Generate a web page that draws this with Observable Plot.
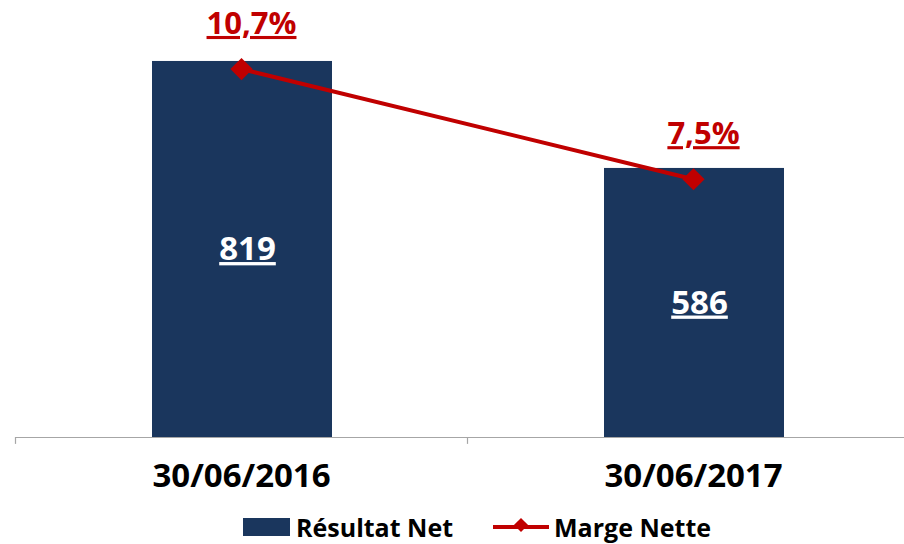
<!DOCTYPE html>
<html><head><meta charset="utf-8">
<script src="https://cdn.jsdelivr.net/npm/d3@7"></script>
<script src="https://cdn.jsdelivr.net/npm/@observablehq/plot@0.6"></script>
<style>
body{margin:0;background:#fff;font-family:'Open Sans',sans-serif;}
#wrap{position:relative;width:904px;height:544px;overflow:hidden;}
#legend{position:absolute;left:243px;top:510px;display:flex;align-items:center;font-weight:700;font-size:25px;color:#000;}
.sw{width:47px;height:18px;background:#1A365D;margin-right:6px;}
.ln{position:relative;width:56px;height:4px;background:#C00000;margin-left:40px;margin-right:5px;}
.ln::after{content:"";position:absolute;left:23px;top:-5px;width:10px;height:10px;background:#C00000;transform:rotate(45deg);}
svg text.u{text-decoration:underline;}
</style></head>
<body><div id="wrap"><div id="chart"></div>
<div id="legend"><div class="sw"></div><span>Résultat Net</span><div class="ln"></div><span>Marge Nette</span></div></div>
<script>
const categories = ["30/06/2016", "30/06/2017"];
const resultatNet = [819, 586];
const margeNette = [10.7, 7.5];

const data = categories.map((c, i) => ({c, v: resultatNet[i], m: margeNette[i]}));
const W = 904, mL = 15, mR = -15;
const step = (W - mL - mR) / categories.length;
const pctToBar = 75; // secondary axis mapping
const fmtPct = m => String(m).replace(".", ",") + "%";
const red = "#C00000", navy = "#1A365D";

const chart = Plot.plot({
  width: W, height: 500,
  marginLeft: mL, marginRight: mR, marginTop: 10, marginBottom: 63,
  style: {fontFamily: "'Open Sans', sans-serif", background: "transparent", overflow: "visible"},
  x: {domain: categories, padding: 0, axis: null},
  y: {domain: [0, 930], axis: null},
  marks: [
    Plot.barY(data, {x: "c", y: "v", fill: navy, insetLeft: 137, insetRight: 135}),
    Plot.ruleY([0], {stroke: "#A6A6A6", strokeWidth: 1.2}),
    Plot.ruleX(data, {x: "c", y1: 0, y2: -15, dx: -step / 2, stroke: "#A6A6A6", strokeWidth: 1.2}),
    Plot.text(data, {x: "c", y: 0, text: "c", dy: 39, fontSize: 33, fontWeight: 700, fill: "#000"}),
    Plot.text(data, {x: "c", y: d => d.v / 2, text: d => String(d.v), dx: 6, fontSize: 33, fontWeight: 700, fill: "#fff", className: "u"}),
    Plot.line(data, {x: "c", y: d => d.m * pctToBar, stroke: red, strokeWidth: 4}),
    Plot.dot(data, {x: "c", y: d => d.m * pctToBar, symbol: "diamond2", r: 10, fill: red}),
    Plot.text(data, {x: "c", y: d => d.m * pctToBar, text: d => fmtPct(d.m), dx: 10, dy: -45, fontSize: 31, fontWeight: 700, fill: red, className: "u"})
  ]
});
document.getElementById("chart").append(chart);
d3.select(chart).selectAll("g.u text").classed("u", true);
</script></body></html>
